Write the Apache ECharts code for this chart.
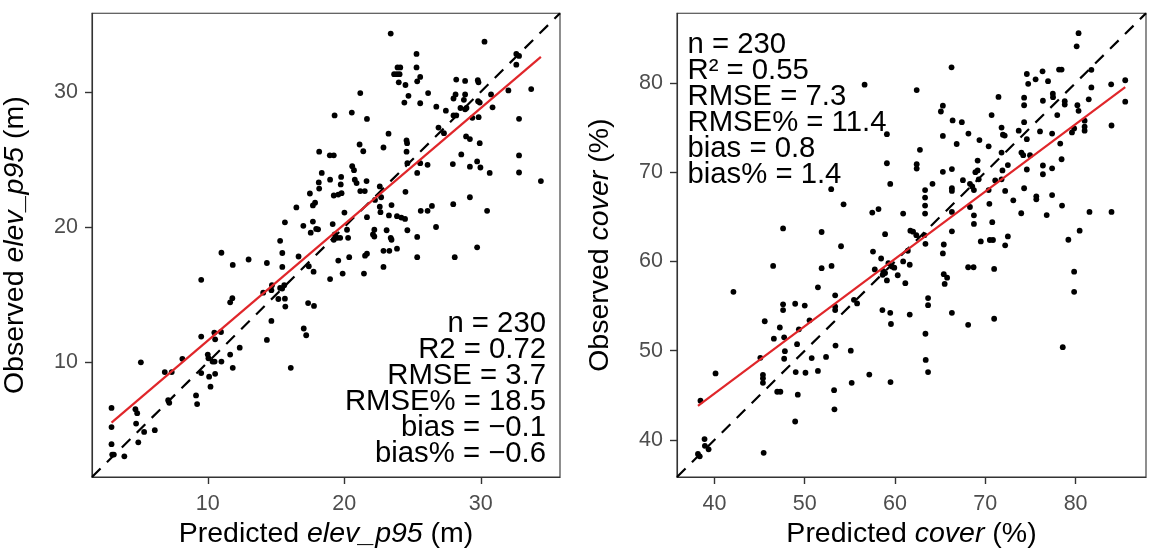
<!DOCTYPE html>
<html>
<head>
<meta charset="utf-8">
<script src="https://cdn.jsdelivr.net/npm/echarts@6/dist/echarts.min.js"></script>
<style>
html,body{margin:0;padding:0;background:#fff;}
#chart{width:1152px;height:554px;}
</style>
</head>
<body>
<div id="chart"></div>
<script>
// ---------- DATA ----------
// Left panel: [predicted elev_p95, observed elev_p95] (m)
const elevData = [
[2.95,6.63],[2.95,5.21],[2.95,3.95],[3.0,3.18],[3.12,3.18],[3.89,3.05],[4.70,6.53],[4.83,6.24],[4.75,5.47],[4.91,4.08],
[5.10,10.0],[5.34,4.85],[6.12,4.98],[6.85,9.28],[7.36,9.28],[7.1,7.2],[7.18,7.0],[8.14,10.26],[9.14,7.55],[9.22,6.91],
[9.52,11.9],[9.52,16.1],[9.52,9.2],[10.0,10.57],[10.05,10.3],[10.1,8.94],[10.2,8.2],[10.35,10.05],[10.5,10.05],[10.48,12.2],
[10.54,11.7],[10.54,9.15],[10.97,12.24],[11.0,10.05],[11.0,18.1],[11.64,10.57],[11.64,14.43],[11.8,14.74],[11.83,17.2],[11.83,9.59],
[12.34,11.08],[12.99,17.6],[14.06,15.15],[14.33,17.34],[14.33,11.65],[14.66,13.06],[14.66,15.33],[14.7,15.7],[15.17,14.68],[15.3,15.5],
[15.45,15.45],[15.6,15.7],[15.3,18.98],[15.46,18.08],[15.46,17.05],[15.65,20.35],[15.65,14.7],[15.68,14.12],[16.08,9.59],[16.49,21.45],
[16.65,17.82],[17.0,20.09],[17.03,12.5],[17.21,12.0],[17.35,14.38],[17.4,17.1],[17.48,22.48],[17.54,19.58],[17.7,21.6],[17.86,21.8],
[17.7,20.4],[17.75,16.7],[17.78,14.17],[17.94,19.86],[18.08,19.83],[18.13,23.3],[18.16,22.84],[18.16,25.57],[18.35,24.0],[18.94,25.3],
[19.23,25.3],[18.96,23.5],[18.96,16.15],[19.15,20.22],[19.23,19.06],[19.29,28.25],[19.23,22.33],[19.3,19.45],[19.37,19.27],[19.56,22.4],
[19.56,17.52],[19.48,19.2],[19.7,19.2],[19.74,23.15],[19.77,23.7],[19.8,22.5],[19.88,16.56],[20.01,21.07],[20.2,19.8],[20.28,19.2],
[20.36,17.77],[20.55,28.46],[20.58,24.5],[20.71,24.2],[20.77,23.5],[20.9,23.25],[21.12,26.1],[21.17,29.9],[21.17,22.66],[21.39,25.6],
[21.44,16.56],[21.5,22.66],[21.52,17.88],[21.66,18.03],[21.66,27.99],[21.63,23.4],[21.66,20.73],[22.1,19.45],[22.2,19.3],[22.2,19.8],
[22.25,22.0],[22.6,23.0],[22.7,22.2],[22.6,21.5],[22.65,21.1],[22.87,17.05],[22.87,18.24],[22.87,25.88],[23.1,19.76],[23.24,26.9],
[23.27,20.86],[23.4,19.2],[23.46,19.06],[23.4,34.3],[23.3,18.24],[23.46,21.62],[23.65,31.3],[23.86,31.3],[24.05,31.3],[23.9,31.8],
[24.1,31.8],[23.99,30.7],[23.86,20.8],[24.18,20.7],[24.45,20.6],[23.86,18.4],[24.4,29.2],[24.48,30.5],[24.48,22.6],[24.56,26.4],
[24.6,26.2],[24.56,25.57],[24.62,24.72],[24.62,19.76],[24.7,29.7],[25.29,32.8],[25.29,31.8],[25.34,30.77],[25.34,24.0],[25.34,19.27],
[25.34,17.77],[25.56,31.1],[25.56,29.15],[25.56,24.72],[25.6,21.2],[26.1,21.2],[26.14,29.9],[26.1,24.6],[26.42,21.56],[26.72,20.0],
[26.74,28.9],[26.9,27.35],[27.3,26.94],[27.44,28.6],[27.95,24.65],[27.98,21.69],[28.09,17.77],[28.0,29.5],[28.15,29.8],[28.2,30.9],
[28.0,28.25],[28.2,28.25],[28.51,28.8],[28.57,25.37],[28.76,29.4],[28.85,28.7],[28.95,28.8],[28.85,30.8],[28.85,29.8],[28.92,26.7],
[29.2,24.46],[29.2,26.5],[29.2,22.2],[29.38,28.07],[29.73,24.85],[29.73,18.5],[29.78,30.85],[29.83,30.7],[29.8,29.3],[29.92,29.2],
[29.84,28.12],[29.92,26.2],[29.97,24.4],[30.27,33.7],[30.46,21.2],[30.65,24.0],[30.75,29.8],[30.86,28.85],[32.02,30.1],[32.6,32.8],
[32.8,32.65],[32.6,32.0],[32.8,28.0],[32.8,25.29],[32.8,24.03],[33.69,30.2],[34.4,23.4]
];
// Right panel: [predicted cover, observed cover] (%)
const coverData = [
[38.17,38.44],[38.37,38.17],[38.45,44.4],[38.9,40.1],[38.94,39.34],[39.35,38.95],[40.12,47.45],[42.1,56.6],[45.08,49.2],[45.37,47.3],
[45.37,46.9],[45.37,46.4],[45.45,38.56],[45.57,53.3],[46.5,59.5],[46.58,51.35],[47.24,52.6],[46.95,45.4],[47.3,45.4],[47.6,63.7],
[47.6,55.2],[47.6,54.55],[47.72,51.5],[47.8,49.95],[47.72,49.1],[48.94,55.26],[48.94,42.07],[49.0,47.6],[49.15,50.73],[49.23,45.07],
[49.35,52.4],[50.0,55.06],[50.08,47.53],[50.53,53.4],[50.77,49.17],[51.46,47.73],[51.46,57.1],[51.87,63.3],[51.87,59.24],[52.36,49.3],
[52.93,68.1],[52.97,59.5],[53.25,45.58],[53.29,43.43],[53.37,56.2],[53.37,54.94],[53.37,54.55],[53.41,50.57],[54.02,61.7],[54.3,66.4],
[55.1,50.0],[55.2,46.4],[55.45,55.7],[55.8,55.3],[56.63,79.8],[57.15,47.33],[57.48,65.48],[57.56,61.1],[57.76,59.1],[58.17,65.87],
[58.46,60.33],[58.6,54.55],[58.7,58.9],[58.9,58.7],[58.63,58.5],[58.9,63.06],[59.1,74.26],[59.1,71.0],[59.1,57.87],[59.27,59.8],
[59.47,68.68],[59.47,54.24],[59.55,52.99],[59.5,46.48],[59.67,59.43],[59.92,59.3],[60.3,58.45],[60.9,65.36],[60.9,60.0],[61.14,57.56],
[61.42,61.2],[61.63,59.63],[61.63,54.05],[61.7,63.45],[62.0,63.33],[62.36,62.94],[62.4,79.2],[62.4,70.9],[62.4,70.4],[62.76,72.5],
[63.25,62.94],[63.33,68.0],[63.33,67.16],[63.33,66.26],[63.33,65.36],[63.37,61.97],[63.37,51.9],[63.4,48.97],[63.66,55.9],[63.66,55.1],
[63.66,47.6],[64.15,68.7],[65.08,76.8],[65.3,77.45],[65.3,74.06],[65.3,70.04],[65.3,60.9],[65.4,61.9],[65.4,58.57],[65.77,58.18],
[65.5,57.48],[66.26,81.75],[66.3,68.2],[66.3,67.9],[66.3,70.35],[66.3,63.37],[66.3,54.24],[66.38,75.8],[66.3,65.55],[66.83,73.16],
[67.4,75.6],[67.52,69.1],[68.1,52.9],[68.1,59.35],[68.7,59.35],[68.13,74.33],[68.3,68.7],[68.55,68.4],[68.74,68.0],[68.3,66.1],
[68.74,65.17],[68.74,64.2],[68.9,70.0],[69.15,71.3],[69.15,70.2],[69.27,69.2],[69.35,73.6],[69.5,62.24],[70.37,72.9],[70.45,66.45],
[70.37,68.0],[70.5,62.4],[70.85,62.4],[70.7,76.4],[70.77,64.4],[70.98,59.16],[70.98,53.58],[71.1,69.07],[71.46,78.43],[71.8,75.0],
[71.95,74.2],[72.15,74.1],[71.8,72.2],[71.9,70.2],[71.8,69.2],[72.2,67.9],[72.2,61.8],[72.5,62.8],[72.5,70.8],[73.1,66.85],
[73.7,74.65],[73.98,65.4],[74.0,72.2],[74.2,71.9],[74.3,68.2],[74.3,77.5],[74.3,78.35],[74.3,75.6],[74.6,81.0],[74.75,79.9],
[74.6,73.7],[74.6,70.3],[74.95,71.9],[75.57,80.4],[75.65,67.3],[75.65,66.96],[76.06,74.57],[76.34,81.3],[76.38,78.0],[76.38,70.75],
[76.38,69.77],[76.8,65.2],[76.95,80.2],[77.4,70.43],[77.4,67.43],[77.4,74.33],[77.48,78.8],[77.5,78.4],[77.97,76.4],[78.17,81.5],
[78.45,81.5],[78.3,73.2],[78.45,71.45],[78.5,66.26],[78.58,50.4],[78.8,77.96],[78.8,77.57],[79.2,62.43],[79.6,74.45],[79.84,74.9],
[79.84,58.85],[79.84,56.6],[80.12,84.1],[80.33,85.57],[80.2,77.5],[80.33,76.87],[80.45,63.45],[81.0,75.77],[81.0,75.1],[81.0,74.65],
[81.46,78.16],[81.54,65.55],[81.75,81.47],[81.75,79.5],[83.94,79.84],[83.98,75.23],[83.98,65.55],[85.5,80.3],[85.5,77.9]
];
// Axis limits and tick labels
const elevLimits = [1.52, 35.8];
const coverLimits = [35.85, 87.8];
const elevTicks = [10, 20, 30];
const coverTicks = [40, 50, 60, 70, 80];
// Fitted regression lines (observed = intercept + slope * predicted)
const elevFit = [3.0, 0.86];
const coverFit = [15.02, 0.7545];
// Statistic annotations
const elevStats = ['n = 230', 'R2 = 0.72', 'RMSE = 3.7', 'RMSE% = 18.5', 'bias = \u22120.1', 'bias% = \u22120.6'];
const coverStats = ['n = 230', 'R\u00b2 = 0.55', 'RMSE = 7.3', 'RMSE% = 11.4', 'bias = 0.8', 'bias% = 1.4'];

// ---------- BUILD ----------
const FONT = "'Liberation Sans', Arial, Helvetica, sans-serif";
function fitLine(data, fit) {
  const xs = data.map(d => d[0]);
  const x0 = Math.min(...xs), x1 = Math.max(...xs);
  return [[x0, fit[0] + fit[1] * x0], [x1, fit[0] + fit[1] * x1]];
}
function idLine(lim) { return [[lim[0], lim[0]], [lim[1], lim[1]]]; }

const G = [
  {left: 90.7, top: 13.3, width: 469.3, height: 471},
  {left: 677, top: 13.3, width: 469, height: 471}
];
const TITLE_SIZE = 28.5;
const TICK_SIZE = 21.5;
const STAT_SIZE = 29.3;
const STAT_STEP = 26.1;

function nameStyle() {
  return {fontSize: TITLE_SIZE, color: '#000', fontFamily: FONT,
          rich: {i: {fontSize: TITLE_SIZE, fontStyle: 'italic', color: '#000', fontFamily: FONT}}};
}
function xAxis(idx, lim, ticks, name) {
  return {
    type: 'value', gridIndex: idx, min: lim[0], max: lim[1],
    name: name, nameLocation: 'middle', nameGap: 43,
    nameTextStyle: nameStyle(),
    axisLine: {show: true, onZero: false, lineStyle: {color: '#333', width: 1.1}},
    axisTick: {show: true, length: 7, customValues: ticks, lineStyle: {color: '#333', width: 1.4}},
    axisLabel: {show: true, customValues: ticks, margin: 16, fontSize: TICK_SIZE, color: '#4D4D4D', fontFamily: FONT},
    splitLine: {show: false}
  };
}
function yAxis(idx, lim, ticks, name) {
  return {
    type: 'value', gridIndex: idx, min: lim[0], max: lim[1],
    name: name, nameLocation: 'middle', nameGap: 62,
    nameTextStyle: nameStyle(),
    axisLine: {show: true, onZero: false, lineStyle: {color: '#333', width: 1.1}},
    axisTick: {show: true, length: 7, customValues: ticks, lineStyle: {color: '#333', width: 1.4}},
    axisLabel: {show: true, customValues: ticks, margin: 14, fontSize: TICK_SIZE, color: '#4D4D4D', fontFamily: FONT},
    splitLine: {show: false}
  };
}

function panelSeries(idx, data, fit, lim) {
  return [
    {type: 'scatter', xAxisIndex: idx, yAxisIndex: idx, data: data, symbol: 'circle', symbolSize: 5.8,
     itemStyle: {color: '#000', opacity: 1}, silent: true, z: 2},
    {type: 'line', xAxisIndex: idx, yAxisIndex: idx, data: idLine(lim), showSymbol: false, silent: true,
     lineStyle: {color: '#000', width: 2.2, type: [12, 9]}, z: 3},
    {type: 'line', xAxisIndex: idx, yAxisIndex: idx, data: fitLine(data, fit), showSymbol: false, silent: true,
     lineStyle: {color: '#E0262A', width: 2.2}, z: 4}
  ];
}

function statTexts(lines, x, y0, align) {
  return lines.map((t, i) => ({
    type: 'text', x: x, y: y0 + i * STAT_STEP, z: 10, silent: true,
    style: {text: t, fontSize: STAT_SIZE, fontFamily: FONT, fill: '#000', align: align, verticalAlign: 'middle'}
  }));
}

const chart = echarts.init(document.getElementById('chart'), null, {renderer: 'canvas'});
chart.setOption({
  backgroundColor: '#fff',
  animation: false,
  grid: G.map(g => Object.assign({show: true, borderColor: '#333', borderWidth: 1.1, backgroundColor: '#fff', containLabel: false}, g)),
  xAxis: [
    xAxis(0, elevLimits, elevTicks, 'Predicted {i|elev_p95} (m)'),
    xAxis(1, coverLimits, coverTicks, 'Predicted {i|cover} (%)')
  ],
  yAxis: [
    yAxis(0, elevLimits, elevTicks, 'Observed {i|elev_p95} (m)'),
    yAxis(1, coverLimits, coverTicks, 'Observed {i|cover} (%)')
  ],
  series: [].concat(
    panelSeries(0, elevData, elevFit, elevLimits),
    panelSeries(1, coverData, coverFit, coverLimits)
  ),
  graphic: [].concat(
    statTexts(elevStats, 546, 323.5, 'right'),
    statTexts(coverStats, 687.5, 44.5, 'left')
  )
});
</script>
</body>
</html>
